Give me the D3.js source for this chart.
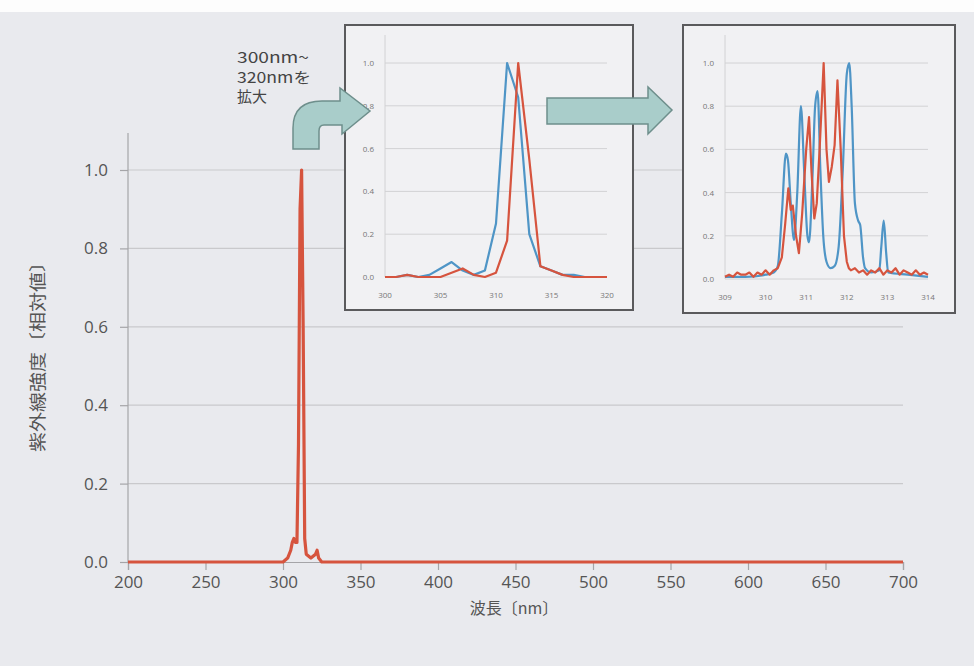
<!DOCTYPE html>
<html>
<head>
<meta charset="utf-8">
<script src="https://cdn.jsdelivr.net/npm/d3@7"></script>
<style>
  body { margin: 0; background: #e9eaee; }
  svg { display: block; }
  text { font-family: "Open Sans", "Noto Sans", sans-serif; }
  .jp { font-family: "Noto Sans CJK JP", sans-serif; }
</style>
</head>
<body>
<div id="chart"></div>
<script>
// main spectrum, 200-700 nm
var mainWl  = [200, 300, 303, 305, 306, 307, 308, 309, 310, 311, 312, 313, 314, 315, 318, 321, 322, 323, 325, 700];
var mainVal = [0, 0, 0.01, 0.03, 0.05, 0.06, 0.05, 0.05, 0.3, 0.9, 1.0, 0.6, 0.06, 0.02, 0.01, 0.02, 0.03, 0.01, 0, 0];
var mainXTicks = [200, 250, 300, 350, 400, 450, 500, 550, 600, 650, 700];
var mainYTicks = [0, 0.2, 0.4, 0.6, 0.8, 1.0];

// zoom 300-320 nm
var zoom1Wl   = [300, 301, 302, 303, 304, 305, 306, 307, 308, 309, 310, 311, 312, 313, 314, 315, 316, 317, 318, 319, 320];
var zoom1Blue = [0, 0, 0.01, 0, 0.01, 0.04, 0.07, 0.03, 0.01, 0.03, 0.25, 1.0, 0.84, 0.2, 0.05, 0.03, 0.01, 0.01, 0, 0, 0];
var zoom1Red  = [0, 0, 0.01, 0, 0, 0, 0.02, 0.04, 0.01, 0, 0.02, 0.17, 1.0, 0.55, 0.05, 0.03, 0.01, 0, 0, 0, 0];
var zoom1XTicks = [300, 305, 310, 315, 320];

// zoom 309-314 nm
var zoom2BlueWl = [309.0, 309.5, 310.0, 310.2, 310.3, 310.4, 310.5, 310.55, 310.62, 310.7, 310.78, 310.87, 310.95, 311.03, 311.07,
                   311.15, 311.22, 311.28, 311.35, 311.42, 311.5, 311.6, 311.7, 311.8, 311.9, 312.0, 312.06, 312.12, 312.2,
                   312.28, 312.33, 312.4, 312.45, 312.6, 312.8, 312.85, 312.91, 312.97, 313.02, 313.5, 314.0];
var zoom2Blue   = [0.01, 0.01, 0.02, 0.03, 0.06, 0.3, 0.58, 0.55, 0.35, 0.18, 0.4, 0.8, 0.5, 0.2, 0.17,
                   0.45, 0.8, 0.87, 0.5, 0.2, 0.08, 0.05, 0.06, 0.15, 0.5, 0.95, 1.0, 0.8, 0.35,
                   0.27, 0.25, 0.1, 0.05, 0.03, 0.04, 0.15, 0.27, 0.12, 0.03, 0.02, 0.01];
var zoom2RedWl  = [309.0, 309.1, 309.2, 309.3, 309.4, 309.5, 309.6, 309.7, 309.8, 309.9, 310.0, 310.1, 310.2, 310.3, 310.4,
                   310.48, 310.56, 310.62, 310.67, 310.75, 310.82, 310.9, 311.0, 311.07, 311.13, 311.2, 311.26, 311.33, 311.43,
                   311.5, 311.56, 311.63, 311.7, 311.77, 311.85, 311.93, 312.0, 312.05, 312.1, 312.2, 312.3, 312.4, 312.5,
                   312.6, 312.7, 312.8, 312.9, 313.0, 313.1, 313.2, 313.3, 313.4, 313.5, 313.6, 313.7, 313.8, 313.9, 314.0];
var zoom2Red    = [0.01, 0.02, 0.01, 0.03, 0.02, 0.02, 0.03, 0.01, 0.03, 0.02, 0.04, 0.02, 0.04, 0.05, 0.1,
                   0.25, 0.42, 0.32, 0.34, 0.2, 0.12, 0.3, 0.6, 0.75, 0.5, 0.28, 0.35, 0.6, 1.0,
                   0.6, 0.45, 0.52, 0.62, 0.92, 0.6, 0.2, 0.08, 0.05, 0.04, 0.05, 0.03, 0.04, 0.02,
                   0.04, 0.03, 0.05, 0.02, 0.04, 0.03, 0.05, 0.02, 0.04, 0.03, 0.02, 0.04, 0.02, 0.03, 0.02];
var zoom2XTicks = [309, 310, 311, 312, 313, 314];
var insetYTicks = [0, 0.2, 0.4, 0.6, 0.8, 1.0];

var noteLines = ["300nm~", "320nmを", "拡大"];

var W = 974, H = 666;
var RED = "#d6543e", BLUE = "#4f95c6", GRID = "#c9c9cc", TXT = "#555";

var svg = d3.select("#chart").append("svg")
    .attr("width", W)
    .attr("height", H);

// white page edge at the top
svg.append("rect").attr("x", 0).attr("y", 0).attr("width", W).attr("height", 12).attr("fill", "#fdfdfd");

// ---------- main chart ----------
var x = d3.scaleLinear().domain([200, 700]).range([128, 903]);
var y = d3.scaleLinear().domain([0, 1]).range([562, 170]);

svg.append("g").selectAll("line")
    .data(mainYTicks.filter(function (d) { return d > 0; })).enter()
    .append("line")
    .attr("x1", x(200)).attr("x2", x(700))
    .attr("y1", function (d) { return y(d); }).attr("y2", function (d) { return y(d); })
    .attr("stroke", GRID).attr("stroke-width", 1.2);

var yAxis = svg.append("g")
    .attr("transform", "translate(" + x(200) + ",0)")
    .call(d3.axisLeft(y).tickValues(mainYTicks).tickFormat(d3.format(".1f")).tickSize(8).tickPadding(12));
yAxis.select(".domain").attr("d", "M0," + 133 + "V" + y(0));

var xAxis = svg.append("g")
    .attr("transform", "translate(0," + y(0) + ")")
    .call(d3.axisBottom(x).tickValues(mainXTicks).tickSize(8).tickPadding(6));

[yAxis, xAxis].forEach(function (a) {
    a.selectAll(".domain, .tick line").attr("stroke", "#a5a5a8").attr("stroke-width", 1.2);
    a.selectAll("text").attr("fill", TXT).style("font-size", "17px");
});

svg.append("path")
    .datum(mainWl)
    .attr("fill", "none")
    .attr("stroke", RED)
    .attr("stroke-width", 3.2)
    .attr("stroke-linejoin", "round")
    .attr("d", d3.line()
        .x(function (d) { return x(d); })
        .y(function (d, i) { return y(mainVal[i]); }));

svg.append("text")
    .attr("class", "jp")
    .attr("x", 514).attr("y", 614)
    .attr("text-anchor", "middle")
    .attr("fill", TXT)
    .style("font-size", "16px")
    .text("波長〔nm〕");

svg.append("text")
    .attr("class", "jp")
    .attr("transform", "translate(44,352) rotate(-90)")
    .attr("text-anchor", "middle")
    .attr("textLength", 200)
    .attr("lengthAdjust", "spacingAndGlyphs")
    .attr("fill", TXT)
    .style("font-size", "17px")
    .text("紫外線強度〔相対値〕");

// ---------- insets ----------
function inset(box, xDom, xTicks, plot, series) {
    var g = svg.append("g");
    g.append("rect")
        .attr("x", box[0]).attr("y", box[1]).attr("width", box[2]).attr("height", box[3])
        .attr("fill", "#f1f1f3").attr("stroke", "#5a5a5c").attr("stroke-width", 2);

    var ix = d3.scaleLinear().domain(xDom).range([plot[0], plot[1]]);
    var iy = d3.scaleLinear().domain([0, 1]).range([plot[2], plot[3]]);

    g.selectAll(".grid")
        .data(insetYTicks).enter()
        .append("line")
        .attr("x1", plot[0]).attr("x2", plot[1])
        .attr("y1", function (d) { return iy(d); }).attr("y2", function (d) { return iy(d); })
        .attr("stroke", "#d2d2d4").attr("stroke-width", 1);

    g.append("line")
        .attr("x1", plot[0]).attr("x2", plot[0])
        .attr("y1", box[1] + 10).attr("y2", plot[2])
        .attr("stroke", "#d2d2d4").attr("stroke-width", 1);

    g.selectAll(".yl")
        .data(insetYTicks).enter()
        .append("text")
        .attr("x", plot[0] - 11).attr("y", function (d) { return iy(d) + 3; })
        .attr("text-anchor", "end")
        .attr("fill", "#777")
        .style("font-size", "8px")
        .text(d3.format(".1f"));

    g.selectAll(".xl")
        .data(xTicks).enter()
        .append("text")
        .attr("x", function (d) { return ix(d); }).attr("y", plot[2] + 21)
        .attr("text-anchor", "middle")
        .attr("fill", "#777")
        .style("font-size", "8px")
        .text(function (d) { return d; });

    series.forEach(function (s) {
        g.append("path")
            .datum(s.wl)
            .attr("fill", "none")
            .attr("stroke", s.color)
            .attr("stroke-width", 2.2)
            .attr("stroke-linejoin", "round")
            .attr("d", d3.line()
                .curve(s.curve || d3.curveLinear)
                .x(function (d) { return ix(d); })
                .y(function (d, i) { return iy(s.val[i]); }));
    });
}

inset([345, 25, 288, 285], [300, 320], zoom1XTicks, [385, 607, 277, 63], [
    { wl: zoom1Wl, val: zoom1Blue, color: BLUE },
    { wl: zoom1Wl, val: zoom1Red, color: RED }
]);

inset([683, 25, 272, 288], [309, 314], zoom2XTicks, [725, 928, 279, 63], [
    { wl: zoom2BlueWl, val: zoom2Blue, color: BLUE, curve: d3.curveMonotoneX },
    { wl: zoom2RedWl, val: zoom2Red, color: RED }
]);

// ---------- arrows and note ----------
var arrowFill = "#a9cdca", arrowLine = "#6e8f8c";

svg.append("path")
    .attr("d", "M293,149 L293,128 Q293,101 322,101 L340,101 L340,88 L370,111 L342,134 L342,125 L324,125 Q319,125 319,131 L319,149 Z")
    .attr("fill", arrowFill).attr("stroke", arrowLine).attr("stroke-width", 1.5);

svg.append("path")
    .attr("d", "M547,98 L648,98 L648,87 L672,110 L648,134 L648,124 L547,124 Z")
    .attr("fill", arrowFill).attr("stroke", arrowLine).attr("stroke-width", 1.5);

var noteWidths = [72, 74, 30];
svg.append("g").selectAll("text")
    .data(noteLines).enter()
    .append("text")
    .attr("class", "jp")
    .attr("x", 237)
    .attr("y", function (d, i) { return 63 + i * 19.5; })
    .attr("textLength", function (d, i) { return noteWidths[i]; })
    .attr("lengthAdjust", "spacingAndGlyphs")
    .attr("fill", "#444")
    .style("font-size", "15px")
    .text(function (d) { return d; });
</script>
</body>
</html>
